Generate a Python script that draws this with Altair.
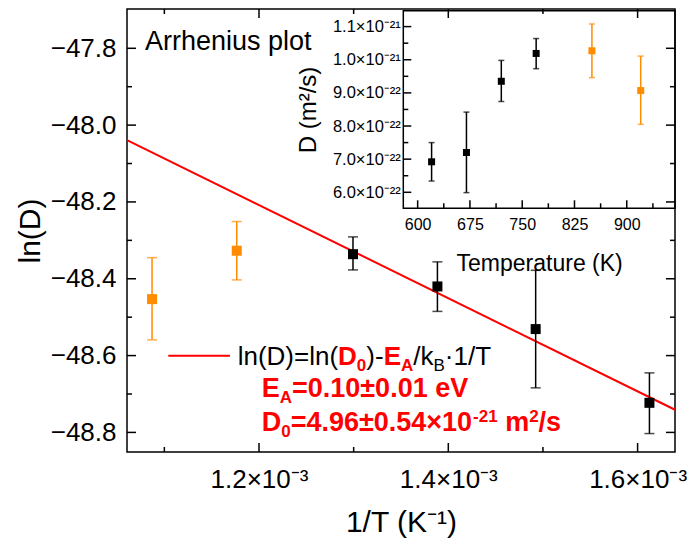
import altair as alt
import pandas as pd

FONT = "Liberation Sans"
ORANGE = "#FF8C00"
RED = "#FF0000"

# ---------------- main panel: ln(D) vs 1/T ----------------
inv_T = [1.087e-3, 1.1765e-3, 1.2993e-3, 1.3885e-3, 1.4923e-3, 1.6125e-3]
lnD = [-48.453, -48.327, -48.336, -48.420, -48.531, -48.723]
lnD_hi = [-48.345, -48.251, -48.291, -48.356, -48.378, -48.645]
lnD_lo = [-48.559, -48.403, -48.377, -48.485, -48.684, -48.803]
point_set = ["excluded", "excluded", "fitted", "fitted", "fitted", "fitted"]

fit_inv_T = [1.06054e-3, 1.63951e-3]
fit_lnD = [-48.039, -48.741]

# ---------------- inset: D vs T ----------------
temperature = [620, 670, 720, 770, 850, 920]
D_e22 = [6.92, 7.20, 9.35, 10.19, 10.27, 9.07]        # units of 1e-22 m^2/s
D_hi_e22 = [7.50, 8.42, 9.98, 10.64, 11.08, 10.11]
D_lo_e22 = [6.34, 5.99, 8.74, 9.73, 9.46, 8.05]
inset_set = ["fitted", "fitted", "fitted", "fitted", "excluded", "excluded"]

# ---------------- tick values ----------------
main_x_major = [1.2e-3, 1.4e-3, 1.6e-3]
main_x_minor = [1.1e-3, 1.3e-3, 1.5e-3]
main_y_major = [-47.8, -48.0, -48.2, -48.4, -48.6, -48.8]
main_y_minor = [-47.9, -48.1, -48.3, -48.5, -48.7]
inset_x_major = [600, 675, 750, 825, 900]
inset_x_minor = [637.5, 712.5, 787.5, 862.5, 937.5]
inset_y_major = [6, 7, 8, 9, 10, 11]
inset_y_minor = [6.5, 7.5, 8.5, 9.5, 10.5]

# ---------------- layout ----------------
W, H = 548, 443
IN_L, IN_R, IN_T, IN_B = 276.3, 548.0, 1.7, 199.3
MAJ, MIN = 9, 5
IMAJ, IMIN = 8, 5

xs = alt.Scale(domain=[1.06054e-3, 1.63951e-3], nice=False, zero=False)
ys = alt.Scale(domain=[-48.851, -47.6977], nice=False, zero=False)
ixs = alt.Scale(domain=[579.4, 969.2], range=[IN_L, IN_R], nice=False, zero=False)
iys = alt.Scale(domain=[5.517, 11.48], range=[IN_B, IN_T], nice=False, zero=False)
cs = alt.Scale(domain=["excluded", "fitted"], range=[ORANGE, "black"])

X_AX = alt.Axis(
    values=main_x_major, labelExpr="format(datum.value*1000, '.1f') + '×10⁻³'",
    title="1/T (K⁻¹)", ticks=False, tickSize=0, domain=False, grid=False,
    labelFontSize=26, labelBaseline="alphabetic", labelPadding=35, labelFlush=False,
    labelOverlap=False, titleFontSize=30, titleX=W / 2, titleY=79,
    titleBaseline="alphabetic", titleAlign="center")
Y_AX = alt.Axis(
    values=main_y_major, format=".1f", title="ln(D)", ticks=False, tickSize=0,
    domain=False, grid=False, labelFontSize=26, labelPadding=11, labelFlush=False,
    labelOverlap=False, titleFontSize=30, titleX=-97, titleY=H / 2, titleAngle=270,
    titleBaseline="middle", titleAlign="center")
IX_AX = alt.Axis(
    orient="bottom", offset=-(H - IN_B), values=inset_x_major, format="d",
    title="Temperature (K)", ticks=False, tickSize=0, domain=False, grid=False,
    labelFontSize=16, labelBaseline="alphabetic", labelPadding=21, labelFlush=False,
    labelOverlap=False, titleFontSize=23, titleX=(IN_L + IN_R) / 2, titleY=62.4,
    titleBaseline="alphabetic", titleAlign="center")
IY_AX = alt.Axis(
    orient="left", offset=-IN_L, values=inset_y_major,
    labelExpr="datum.value >= 10 ? format(datum.value/10, '.1f') + '×10⁻²¹' : format(datum.value, '.1f') + '×10⁻²²'",
    title="D (m²/s)", ticks=False, tickSize=0, domain=False, grid=False,
    labelFontSize=16.5, labelPadding=3, labelFlush=False, labelOverlap=False,
    titleFontSize=24, titleX=-95.3, titleY=(IN_T + IN_B) / 2, titleAngle=270,
    titleBaseline="middle", titleAlign="center")

dummy = pd.DataFrame({"a": [0]})

main_df = pd.DataFrame({"x": inv_T, "y": lnD, "hi": lnD_hi, "lo": lnD_lo, "set": point_set})
fit_df = pd.DataFrame({"x": fit_inv_T, "y": fit_lnD})
inset_df = pd.DataFrame({"T": temperature, "D": D_e22, "hi": D_hi_e22, "lo": D_lo_e22, "set": inset_set})


def MX(field):
    return alt.X(field, scale=xs, axis=X_AX)


def MY(field):
    return alt.Y(field, scale=ys, axis=Y_AX)


def IX(field):
    return alt.X(field, scale=ixs, axis=IX_AX)


def IY(field):
    return alt.Y(field, scale=iys, axis=IY_AX)


def xticks(vals, xenc, y0, length):
    return alt.Chart(pd.DataFrame({"v": vals})).mark_rule(color="black", strokeWidth=1.5).encode(
        x=xenc("v:Q"), y=alt.value(y0), y2=alt.value(y0 + length))


def yticks(vals, yenc, x0, length):
    return alt.Chart(pd.DataFrame({"v": vals})).mark_rule(color="black", strokeWidth=1.5).encode(
        y=yenc("v:Q"), x=alt.value(x0), x2=alt.value(x0 + length))


# Arial / Liberation Sans advance widths (per 1000 em)
REG = {" ": 278, "(": 333, ")": 333, "-": 333, ".": 278, "/": 278, "=": 584, "±": 584, "×": 584,
       "·": 278, "A": 667, "B": 667, "D": 722, "E": 667, "T": 611, "V": 667, "e": 556, "k": 500,
       "l": 222, "n": 556, "m": 833, "s": 500}
BOLD = {" ": 278, "(": 333, ")": 333, "-": 333, ".": 278, "/": 278, "=": 584, "±": 584, "×": 584,
        "A": 722, "D": 722, "E": 667, "V": 667, "e": 556, "m": 889, "s": 556}


def text_width(s, fs, bold):
    tbl = BOLD if bold else REG
    return sum(tbl.get(c, 556) for c in s) * fs / 1000.0


def text_runs(runs, x0, y0):
    out = []
    x = x0
    for s, fs, bold, color, dy in runs:
        stripped = s.lstrip(" ")
        x += text_width(s[: len(s) - len(stripped)], fs, bold)
        out.append(alt.Chart(dummy).mark_text(
            text=stripped, font=FONT, fontSize=fs, fontWeight="bold" if bold else "normal",
            color=color, align="left", baseline="alphabetic").encode(
            x=alt.value(x), y=alt.value(y0 + dy)))
        x += text_width(stripped, fs, bold)
    return out


FS, FB, SUB = 26, 27, 17
K = "black"
line1 = [("ln(D)=ln(", FS, False, K, 0), ("D", FS, True, RED, 0), ("0", SUB, True, RED, 6),
         (")-", FS, False, K, 0), ("E", FS, True, RED, 0), ("A", SUB, True, RED, 6),
         ("/k", FS, False, K, 0), ("B", SUB, False, K, 6), ("·1/T", FS, False, K, 0)]
line2 = [("E", FB, True, RED, 0), ("A", SUB, True, RED, 6), ("=0.10±0.01 eV", FB, True, RED, 0)]
line3 = [("D", FB, True, RED, 0), ("0", SUB, True, RED, 6), ("=4.96±0.54×10", FB, True, RED, 0),
         ("-21", SUB, True, RED, -9), (" m", FB, True, RED, 0), ("2", SUB, True, RED, -9),
         ("/s", FB, True, RED, 0)]

# ---------------- main layers ----------------
fit_line = alt.Chart(fit_df).mark_line(color=RED, strokeWidth=2).encode(x=MX("x:Q"), y=MY("y:Q"))

err = alt.Chart(main_df).mark_rule(strokeWidth=1.5).encode(
    x=MX("x:Q"), y=MY("lo:Q"), y2="hi:Q", color=alt.Color("set:N", scale=cs, legend=None))
cap_hi = alt.Chart(main_df).mark_tick(orient="horizontal", size=10, thickness=1.5).encode(
    x=MX("x:Q"), y=MY("hi:Q"), color=alt.Color("set:N", scale=cs, legend=None))
cap_lo = alt.Chart(main_df).mark_tick(orient="horizontal", size=10, thickness=1.5).encode(
    x=MX("x:Q"), y=MY("lo:Q"), color=alt.Color("set:N", scale=cs, legend=None))
main_pts = alt.Chart(main_df).mark_square(size=100, opacity=1, filled=True).encode(
    x=MX("x:Q"), y=MY("y:Q"), color=alt.Color("set:N", scale=cs, legend=None))

legend_line = alt.Chart(dummy).mark_rule(color=RED, strokeWidth=2).encode(
    x=alt.value(41.3), x2=alt.value(103), y=alt.value(346.7))

title_txt = alt.Chart(dummy).mark_text(
    text="Arrhenius plot", font=FONT, fontSize=27, color="black", align="left",
    baseline="alphabetic").encode(x=alt.value(18), y=alt.value(41))

main_layers = [fit_line, err, cap_hi, cap_lo, main_pts,
               xticks(main_x_major, MX, H, -MAJ), xticks(main_x_minor, MX, H, -MIN),
               xticks(main_x_major, MX, 0, MAJ), xticks(main_x_minor, MX, 0, MIN),
               yticks(main_y_major, MY, 0, MAJ), yticks(main_y_minor, MY, 0, MIN),
               yticks(main_y_major, MY, W, -MAJ), yticks(main_y_minor, MY, W, -MIN),
               legend_line, title_txt]
main_layers += text_runs(line1, 110.7, 356)
main_layers += text_runs(line2, 134.7, 388)
main_layers += text_runs(line3, 134.7, 422)

main = alt.layer(*main_layers)

# ---------------- inset layers ----------------
ierr = alt.Chart(inset_df).mark_rule(strokeWidth=1.5).encode(
    x=IX("T:Q"), y=IY("lo:Q"), y2="hi:Q", color=alt.Color("set:N", scale=cs, legend=None))
icap_hi = alt.Chart(inset_df).mark_tick(orient="horizontal", size=6, thickness=1.5).encode(
    x=IX("T:Q"), y=IY("hi:Q"), color=alt.Color("set:N", scale=cs, legend=None))
icap_lo = alt.Chart(inset_df).mark_tick(orient="horizontal", size=6, thickness=1.5).encode(
    x=IX("T:Q"), y=IY("lo:Q"), color=alt.Color("set:N", scale=cs, legend=None))
inset_pts = alt.Chart(inset_df).mark_square(size=49, opacity=1, filled=True).encode(
    x=IX("T:Q"), y=IY("D:Q"), color=alt.Color("set:N", scale=cs, legend=None))

inset_frame = alt.Chart(dummy).mark_rect(fillOpacity=0, stroke="black", strokeWidth=1.5).encode(
    x=alt.value(IN_L), x2=alt.value(IN_R), y=alt.value(IN_T), y2=alt.value(IN_B))

inset_layers = [inset_frame, ierr, icap_hi, icap_lo, inset_pts,
                xticks(inset_x_major, IX, IN_B, -IMAJ), xticks(inset_x_minor, IX, IN_B, -IMIN),
                yticks(inset_y_major, IY, IN_L, IMAJ), yticks(inset_y_minor, IY, IN_L, IMIN)]
inset = alt.layer(*inset_layers)

chart = alt.layer(main, inset).resolve_scale(x="independent", y="independent").properties(
    width=W, height=H, padding={"left": 127, "top": 9, "right": 21, "bottom": 91},
    autosize=alt.AutoSizeParams(type="none"), background="white"
).configure_view(stroke="black", strokeWidth=1.5).configure_axis(
    labelFont=FONT, titleFont=FONT, labelColor="black", titleColor="black",
    titleFontWeight="normal")

chart.save("out.html", embed_options={"renderer": "svg", "actions": False})
